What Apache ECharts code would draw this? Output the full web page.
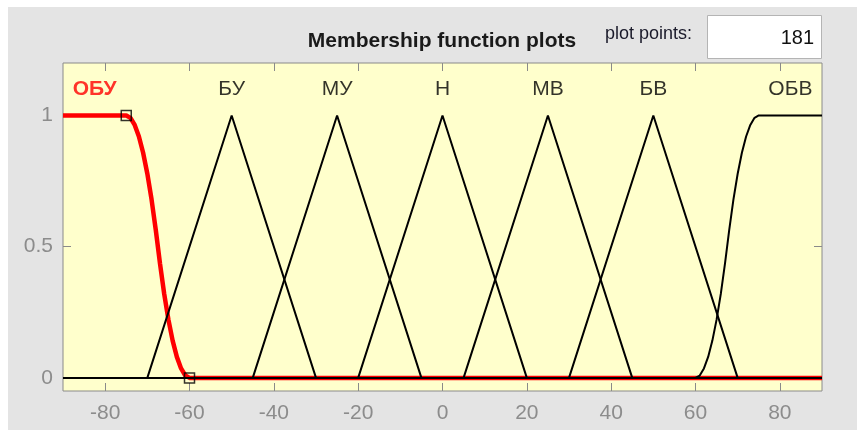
<!DOCTYPE html>
<html>
<head>
<meta charset="utf-8">
<script src="https://cdn.jsdelivr.net/npm/echarts@6/dist/echarts.min.js"></script>
<style>
  html, body { margin: 0; padding: 0; background: #fff; }
  #chart {
    width: 857px; height: 430px;
    background: linear-gradient(#e4e4e4, #e4e4e4) 8px 7px / 849px 423px no-repeat, #fff;
  }
</style>
</head>
<body>
<div id="chart"></div>
<script>
// Universe of discourse and tick positions
const xRange = [-90, 90];
const yRange = [-0.05, 1.2];
const xTicks = [-80, -60, -40, -20, 0, 20, 40, 60, 80];
const yTicks = [0, 0.5, 1];

// Membership function names and where their labels sit
const mfNames = ['ОБУ', 'БУ', 'МУ', 'Н', 'МВ', 'БВ', 'ОБВ'];
const labelX = [-82.5, -50, -25, 0, 25, 50, 82.5];
const labelY = 1.1;

// Triangular functions: [left foot, peak, right foot]
const mfBU = [-70, -50, -30];
const mfMU = [-45, -25, -5];
const mfN  = [-20, 0, 20];
const mfMV = [5, 25, 45];
const mfBV = [30, 50, 70];

// ОБУ: Z-shaped function falling between -75 and -60
const obuX = [-90, -75, -74, -73, -72, -71, -70, -69, -68, -67, -66, -65, -64, -63, -62, -61, -60, 90];
const obuY = [1, 1, 0.991, 0.964, 0.92, 0.858, 0.778, 0.68, 0.564, 0.436, 0.32, 0.222, 0.142, 0.08, 0.036, 0.009, 0, 0];

// ОБВ: S-shaped function rising between 60 and 75
const obvX = [-90, 60, 61, 62, 63, 64, 65, 66, 67, 68, 69, 70, 71, 72, 73, 74, 75, 90];
const obvY = [0, 0, 0.009, 0.036, 0.08, 0.142, 0.222, 0.32, 0.436, 0.564, 0.68, 0.778, 0.858, 0.92, 0.964, 0.991, 1, 1];

// Parameter points of the selected function (ОБУ)
const handleX = [-75, -60];
const handleY = [1, 0];

const zip = (xs, ys) => xs.map((x, i) => [x, ys[i]]);
const tri = (p) => [[xRange[0], 0], [p[0], 0], [p[1], 1], [p[2], 0], [xRange[1], 0]];

const FONT = '"Liberation Sans", Arial, Helvetica, sans-serif';
const AXIS_GRAY = '#8a8a8a';
const LABEL_GRAY = '#8c8c8c';

const blackLine = (name, data) => ({
  name, type: 'line', data, symbol: 'none', silent: true, z: 3,
  lineStyle: { color: '#000', width: 2 }
});

// Axis with inward ticks only; the frame comes from the grid border
const frameAxis = (extra, ticks, range, labelMargin) => Object.assign({
  type: 'value', min: range[0], max: range[1],
  axisLine: { show: false, onZero: false },
  splitLine: { show: false },
  axisTick: { show: true, inside: true, length: 8, customValues: ticks, lineStyle: { color: AXIS_GRAY } },
  axisLabel: labelMargin
    ? { customValues: ticks, margin: labelMargin, color: LABEL_GRAY, fontSize: 21, fontFamily: FONT }
    : { show: false }
}, extra);

const chart = echarts.init(document.getElementById('chart'), null, { renderer: 'canvas' });

chart.setOption({
  animation: false,
  backgroundColor: 'transparent',
  grid: {
    left: 63, top: 63, width: 759, height: 328,
    show: true, backgroundColor: '#ffffcc', borderColor: AXIS_GRAY, borderWidth: 1
  },
  xAxis: [
    frameAxis({ position: 'bottom' }, xTicks, xRange, 12),
    frameAxis({ position: 'top' }, xTicks, xRange, 0)
  ],
  yAxis: [
    frameAxis({ position: 'left' }, yTicks, yRange, 10),
    frameAxis({ position: 'right' }, yTicks, yRange, 0)
  ],
  series: [
    {
      name: mfNames[0], type: 'line', data: zip(obuX, obuY), symbol: 'none', silent: true, z: 2,
      lineStyle: { color: '#ff0000', width: 4.5 }
    },
    blackLine(mfNames[1], tri(mfBU)),
    blackLine(mfNames[2], tri(mfMU)),
    blackLine(mfNames[3], tri(mfN)),
    blackLine(mfNames[4], tri(mfMV)),
    blackLine(mfNames[5], tri(mfBV)),
    blackLine(mfNames[6], zip(obvX, obvY)),
    {
      name: 'handles', type: 'scatter', data: zip(handleX, handleY), z: 5, silent: true,
      symbol: 'rect', symbolSize: 10,
      itemStyle: { color: 'rgba(0,0,0,0)', borderColor: '#000', borderWidth: 1.5 }
    },
    {
      name: 'names', type: 'scatter', symbolSize: 0, z: 6, silent: true,
      data: mfNames.map((n, i) => ({
        value: [labelX[i], labelY], name: n,
        label: i === 0 ? { color: '#ff0000', fontWeight: 'bold' } : {}
      })),
      label: {
        show: true, position: 'inside', formatter: (p) => p.name,
        color: '#000', fontSize: 21, fontFamily: FONT
      }
    }
  ],
  graphic: [
    {
      type: 'text', silent: true,
      style: {
        text: 'Membership function plots', x: 442, y: 41,
        align: 'center', verticalAlign: 'middle',
        font: 'bold 21px ' + FONT, fill: '#1a1a1a'
      }
    },
    {
      type: 'text', silent: true,
      style: {
        text: 'plot points:', x: 605, y: 34,
        align: 'left', verticalAlign: 'middle',
        font: '18px ' + FONT, fill: '#1a1a2a'
      }
    },
    {
      type: 'rect', silent: true,
      shape: { x: 707.5, y: 15.5, width: 114, height: 43 },
      style: { fill: '#ffffff', stroke: '#b4b4b4', lineWidth: 1 }
    },
    {
      type: 'text', silent: true,
      style: {
        text: '181', x: 814, y: 38,
        align: 'right', verticalAlign: 'middle',
        font: '20px ' + FONT, fill: '#111'
      }
    }
  ]
});
</script>
</body>
</html>
